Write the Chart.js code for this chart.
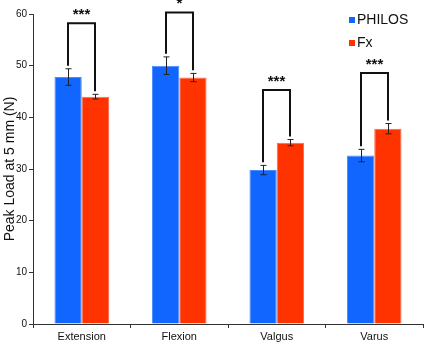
<!DOCTYPE html>
<html>
<head>
<meta charset="utf-8">
<script src="https://cdn.jsdelivr.net/npm/chart.js@4/dist/chart.umd.min.js"></script>
<style>
  html, body { margin: 0; padding: 0; background: #fff; }
  #wrap { width: 425px; height: 344px; }
</style>
</head>
<body>
<div id="wrap"><canvas id="loadChart" width="425" height="344"></canvas></div>
<script>
const categories = ['Extension', 'Flexion', 'Valgus', 'Varus'];
const philos = [47.8, 50.0, 29.8, 32.6];
const philosErr = [1.6, 1.7, 0.9, 1.2];
const fx = [44.0, 47.7, 35.1, 37.8];
const fxErr = [0.45, 0.8, 0.6, 1.0];
const sigLabels = ['***', '*', '***', '***'];
const bracketTop = [58.2, 60.3, 45.3, 48.6];
const yTicks = [0, 10, 20, 30, 40, 50, 60];

const blue = '#1166ff';
const red = '#ff3300';

// error bars, significance brackets and the legend
const extras = {
    id: 'extras',
    afterDatasetsDraw(chart) {
        const c = chart.ctx;
        const y = chart.scales.y;
        const errs = [philosErr, fxErr];
        c.save();
        c.strokeStyle = '#222';
        c.lineWidth = 1;
        chart.data.datasets.forEach((ds, di) => {
            chart.getDatasetMeta(di).data.forEach((bar, i) => {
                const x = Math.round(bar.x) + 0.5;
                const hi = y.getPixelForValue(ds.data[i] + errs[di][i]);
                const lo = y.getPixelForValue(ds.data[i] - errs[di][i]);
                c.beginPath();
                c.moveTo(x, hi); c.lineTo(x, lo);
                c.moveTo(x - 3, hi); c.lineTo(x + 3, hi);
                c.moveTo(x - 3, lo); c.lineTo(x + 3, lo);
                c.stroke();
            });
        });

        // brackets
        c.strokeStyle = '#111';
        c.lineWidth = 2;
        c.fillStyle = '#111';
        c.font = 'bold 15px "Liberation Sans", Arial, sans-serif';
        c.textAlign = 'center';
        c.textBaseline = 'alphabetic';
        const m0 = chart.getDatasetMeta(0).data;
        const m1 = chart.getDatasetMeta(1).data;
        categories.forEach((cat, i) => {
            const xl = Math.round(m0[i].x), xr = Math.round(m1[i].x);
            const top = y.getPixelForValue(bracketTop[i]);
            const l = y.getPixelForValue(philos[i] + philosErr[i] + 0.6);
            const r = y.getPixelForValue(fx[i] + fxErr[i] + 0.6);
            c.beginPath();
            c.moveTo(xl, l); c.lineTo(xl, top); c.lineTo(xr, top); c.lineTo(xr, r);
            c.stroke();
            c.fillText(sigLabels[i], (xl + xr) / 2, top - 4);
        });

        // legend
        c.font = '14px "Liberation Sans", Arial, sans-serif';
        c.textAlign = 'left';
        c.textBaseline = 'middle';
        chart.data.datasets.forEach((ds, di) => {
            const ly = 20 + di * 23;
            c.fillStyle = ds.backgroundColor;
            c.fillRect(349, ly - 3, 6, 6);
            c.fillStyle = '#111';
            c.fillText(ds.label, 357, ly);
        });
        c.restore();
    }
};

new Chart(document.getElementById('loadChart'), {
    type: 'bar',
    data: {
        labels: categories,
        datasets: [
            { label: 'PHILOS', data: philos, backgroundColor: blue, borderColor: '#4d8cff', borderWidth: 1 },
            { label: 'Fx', data: fx, backgroundColor: red, borderColor: '#ff6a4d', borderWidth: 1 }
        ]
    },
    options: {
        responsive: false,
        animation: false,
        layout: { padding: { left: 2, right: 2, top: 14, bottom: 0 } },
        datasets: { bar: { categoryPercentage: 0.56, barPercentage: 1 } },
        plugins: { legend: { display: false }, tooltip: { enabled: false } },
        scales: {
            x: {
                afterFit(s) { s.height = 20; },
                grid: { offset: true, drawOnChartArea: false, drawTicks: true, tickLength: 4, color: '#333' },
                border: { color: '#333', width: 1 },
                ticks: { color: '#111', padding: 2, font: { family: '"Liberation Sans", Arial, sans-serif', size: 11 } }
            },
            y: {
                min: 0,
                max: 60,
                afterFit(s) { s.width = 31; },
                afterBuildTicks(s) { s.ticks = yTicks.map(v => ({ value: v })); },
                grid: { drawOnChartArea: false, drawTicks: true, tickLength: 4, color: '#333' },
                border: { color: '#333', width: 1 },
                ticks: { color: '#111', padding: 2, font: { family: '"Liberation Sans", Arial, sans-serif', size: 10 } },
                title: {
                    display: true,
                    text: 'Peak Load at 5 mm (N)',
                    color: '#111',
                    padding: 0,
                    font: { family: '"Liberation Sans", Arial, sans-serif', size: 14 }
                }
            }
        }
    },
    plugins: [extras]
});
</script>
</body>
</html>
